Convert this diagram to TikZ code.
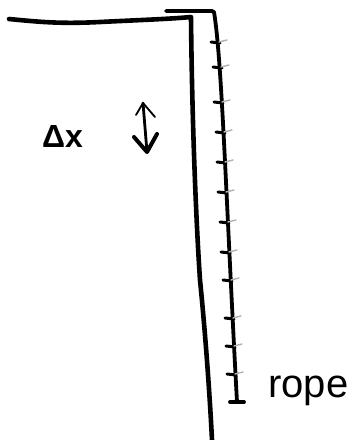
\documentclass[tikz,border=0pt]{standalone}
\usepackage{fontspec}
\setmainfont{Liberation Sans}
\usetikzlibrary{arrows.meta}
\begin{document}
\begin{tikzpicture}[x=1pt,y=-1pt,line cap=round,line join=round,
  cliff/.style={line width=4.6pt},
  ropeline/.style={line width=3.8pt},
  tick/.style={line width=3pt},
  lbl/.style={inner sep=0pt,anchor=base west}]
\useasboundingbox (0,0) rectangle (356,440);
% cliff
\draw[cliff] (9,19) .. controls (40,22) and (60,24) .. (100,22) .. controls (140,20) and (170,19) .. (191,17)
  .. controls (192,120) and (196,220) .. (200,280) .. controls (206,340) and (210,400) .. (212,440);
% rope
\coordinate (rtop) at (214,12);
\coordinate (rbot) at (237,402);
\draw[ropeline] (166,11) -- (212,11) -- (rtop) .. controls (222,60) and (226,200) .. (rbot);
\draw[ropeline] (230,402) -- (244,402);
% ticks
\foreach \y/\x in {42/219,67/221,102/222,132/224,162/225,192/226,222/228,252/229,280/231,318/233,346/234,374/235}{
  \draw[tick] (\x-8,\y) -- (\x+1,\y+1);
  \draw[line width=1.4pt,gray!60] (\x,\y) -- (\x+8,\y-2);
}
% delta x
\node[lbl,font=\fontsize{32}{32}\selectfont\bfseries] (dx) at (42,147) {Δx};
% double arrow
\coordinate (atop) at (143,103);
\coordinate (abot) at (147,152);
\draw[line width=1.8pt] (136,115) -- (atop) -- (155,117);
\draw[line width=2.8pt] (atop) -- (abot);
\draw[line width=4pt] (134,137) -- (abot) -- (157,134);
% rope label
\node[lbl,font=\fontsize{40}{40}\selectfont] (rope) at (268,397) {rope};
\end{tikzpicture}
\end{document}
